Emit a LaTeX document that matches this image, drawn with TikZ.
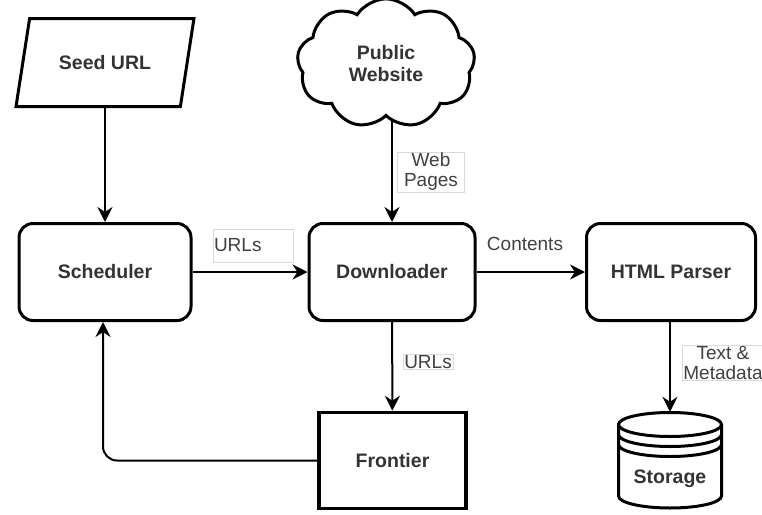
\documentclass[tikz,border=0pt]{standalone}
\usepackage{fontspec}
\setmainfont{Liberation Sans}
\usetikzlibrary{arrows.meta,shapes.geometric,shapes.symbols,backgrounds,positioning,calc}
\newcommand\boxfont{\fontsize{19.5}{22}\selectfont\bfseries}
\newcommand\lblfont{\fontsize{19}{20}\selectfont}

\begin{document}
\begin{tikzpicture}[x=1pt, y=1pt, >={Stealth[length=15pt, width=15pt, inset=5pt]}]
    \tikzset{
        a/.style={->, line width=2pt},
        rbox/.style={draw, rectangle, rounded corners=14pt, line width=3pt, minimum width=172pt, minimum height=97pt, font=\boxfont, text=black!80},
        lbl/.style={draw=black!15, fill=white, font=\lblfont, inner sep=1pt, text=black!75, align=center}
    }
    \useasboundingbox (0,0) rectangle (762,-514);

    % top row
    \node [draw, trapezium, trapezium left angle=67, trapezium right angle=113, trapezium stretches=true,
        minimum width=178pt, minimum height=88pt, line width=3pt, font=\boxfont, text=black!80] (seed) at (105,-62.5) {Seed URL};
    \node [draw, cloud, cloud puffs=9, cloud puff arc=115, fill=white, line width=3pt, minimum width=178pt, minimum height=114pt,
        font=\boxfont, text=black!80, align=center] (web) at (386,-63.5) {Public\\Website};

    % middle row
    \node [rbox] (sched) at (105,-272) {Scheduler};
    \node [rbox, minimum width=166pt] (down) at (392,-272) {Downloader};
    \node [rbox, minimum width=169pt] (parser) at (671,-272) {HTML Parser};

    % bottom row
    \node [draw, rectangle, line width=3.5pt, minimum width=147pt, minimum height=96pt, font=\boxfont, text=black!80] (front) at (392.5,-460.5) {Frontier};
    \node [minimum width=106pt, minimum height=98pt, inner sep=0pt] (store) at (670,-461) {};
        \draw [line width=3pt, fill=white] (618.5,-424.5) -- (618.5,-496) arc[start angle=180, end angle=360, x radius=51.5, y radius=12]
            -- (721.5,-424.5) arc[start angle=0, end angle=180, x radius=51.5, y radius=12] -- cycle;
        \foreach \dy in {0,10,20}
            \draw [line width=3pt] (618.5,-424.5-\dy) arc[start angle=180, end angle=360, x radius=51.5, y radius=12];
    \node [font=\boxfont, text=black!80] (storetxt) at (670,-479) {Storage};

    % connectors
    \draw [a] (seed.south -| sched.north) -- (sched.north);
    \begin{pgfonlayer}{background}
        \draw [a] (down |- web) -- (down.north);
    \end{pgfonlayer}
    \draw [a] (sched) -- (down);
    \draw [a] (down) -- (parser);
    \draw [a] (down) -- (front);
    \draw [a] (parser.south -| store.north) -- (store.north);
    \draw [a, rounded corners=14pt] (front.west) -| ([xshift=-2pt]sched.south);

    % labels
    \node [lbl, text width=78pt, align=left, minimum height=33pt] (urlsa) at (253,-245.5) {URLs};
    \node [font=\lblfont, text=black!75] (cont) at (525,-244) {Contents};
    \node [lbl, minimum width=67pt] (pages) at (431,-172) {Web\\Pages};
    \node [lbl] (urlsb) at (428,-362) {URLs};
    \node [lbl] (meta) at (723,-363) {Text \&\\Metadata};
\end{tikzpicture}
\end{document}
